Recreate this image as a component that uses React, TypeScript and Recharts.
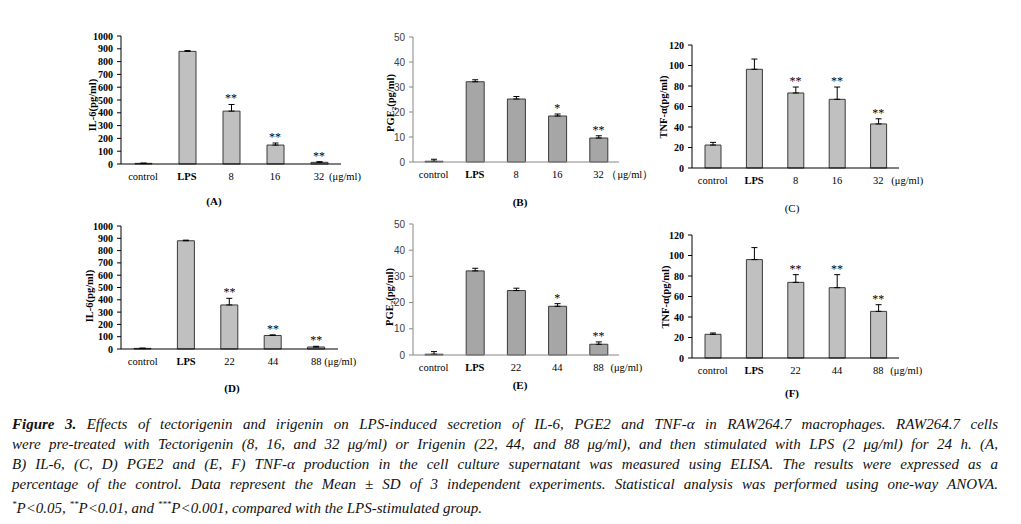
import React from "react";
import { ComposedChart, Bar, XAxis, YAxis, ErrorBar, Scatter } from "recharts";

const groupsTecto = ["control", "LPS", "8", "16", "32"];
const groupsIri = ["control", "LPS", "22", "44", "88"];

// tectorigenin (A, B, C)
const il6Tecto = [5, 880, 413, 148, 13];
const il6TectoSd = [2, 6, 52, 16, 5];
const pge2Tecto = [0.3, 32.1, 25.2, 18.4, 9.6];
const pge2TectoSd = [0.8, 0.8, 1.0, 0.8, 0.9];
const tnfTecto = [22.4, 96.3, 73.2, 67, 43];
const tnfTectoSd = [2.6, 10, 5.8, 12, 5];

// irigenin (D, E, F)
const il6Iri = [5, 880, 358, 110, 16];
const il6IriSd = [2, 5, 54, 5, 6];
const pge2Iri = [0.3, 32.1, 24.6, 18.6, 4.1];
const pge2IriSd = [1.0, 1.0, 0.9, 1.0, 0.9];
const tnfIri = [23.1, 96, 73.8, 68.6, 45.5];
const tnfIriSd = [1.3, 11.7, 7.5, 12.7, 6.5];

const sigIl6 = ["", "", "**", "**", "**"];
const sigPge2 = ["", "", "", "*", "**"];
const sigTnf = ["", "", "**", "**", "**"];

const il6Ticks = [0, 100, 200, 300, 400, 500, 600, 700, 800, 900, 1000];
const pge2Ticks = [0, 10, 20, 30, 40, 50];
const tnfTicks = [0, 20, 40, 60, 80, 100, 120];

const serif = "'Liberation Serif', 'Times New Roman', serif";
const sans = "'Liberation Sans', Arial, sans-serif";

const CatTick = (props: any) => {
  const { x, y, payload, index, unit, unitDx, lastIndex } = props;
  const bold = payload.value === "LPS";
  return (
    <g>
      <text x={x} y={y} dy="0.71em" textAnchor="middle" fontFamily={serif} fontSize={10.5} fontWeight={bold ? 700 : 400} fill="#000">
        {payload.value}
      </text>
      {index === lastIndex && (
        <text x={x + unitDx} y={y} dy="0.71em" textAnchor="start" fontFamily={serif} fontSize={10.5} fill="#000">
          {unit}
        </text>
      )}
    </g>
  );
};

const Star = (props: any) => {
  const { cx, cy, payload } = props;
  if (!payload || !payload.sig) return <g />;
  return (
    <text x={cx} y={cy - 2} textAnchor="middle" fontFamily={serif} fontSize={12} style={{ fill: "#000" }} stroke="none">
      {payload.sig}
    </text>
  );
};

type PanelProps = {
  names: string[];
  values: number[];
  sd: number[];
  sig: string[];
  ticks: number[];
  px: number;
  py: number;
  pw: number;
  ph: number;
  clipRight: number;
  barSize: number;
  fill: string;
  excel?: boolean;
  yLabel: React.ReactNode;
  yLabelX: number;
  yLabelY: number;
  letter: string;
  letterX: number;
  letterY: number;
  letterBold?: boolean;
  unit: string;
  unitDx: number;
};

function Panel(p: PanelProps) {
  const yAxisW = 61;
  const mTop = 14;
  const left = p.px - yAxisW;
  const top = p.py - mTop;
  const width = p.clipRight - left;
  const height = mTop + p.ph + 1 + 30;
  const data = p.names.map((name, i) => ({
    name,
    v: p.values[i],
    sd: [0, p.sd[i]],
    top: p.values[i] + p.sd[i],
    sig: p.sig[i],
  }));
  const axisColor = p.excel ? "#868686" : "#000";
  return (
    <>
      <div style={{ position: "absolute", left, top }}>
        <ComposedChart
          width={width}
          height={height}
          data={data}
          margin={{ top: mTop, right: width - yAxisW - p.pw, bottom: 0, left: 0 }}
        >
          <XAxis
            xAxisId={0}
            type="number"
            domain={[0, 5]}
            ticks={[0, 1, 2, 3, 4, 5]}
            allowDataOverflow
            tick={false}
            tickSize={3}
            height={1}
            axisLine={{ stroke: axisColor }}
            tickLine={{ stroke: axisColor }}
          />
          <XAxis
            xAxisId={1}
            dataKey="name"
            type="category"
            interval={0}
            axisLine={false}
            tickLine={false}
            height={30}
            tick={<CatTick unit={p.unit} unitDx={p.unitDx} lastIndex={p.names.length - 1} />}
          />
          <YAxis
            width={yAxisW}
            domain={[0, p.ticks[p.ticks.length - 1]]}
            ticks={p.ticks}
            interval={0}
            tickSize={4}
            tickMargin={4}
            axisLine={{ stroke: axisColor }}
            tickLine={{ stroke: axisColor }}
            tick={{
              fontFamily: p.excel ? sans : serif,
              fontSize: 10,
              fontWeight: p.excel ? 400 : 700,
              fill: p.excel ? "#404040" : "#000",
            }}
          />
          <Bar xAxisId={1} dataKey="v" fill={p.fill} stroke="#3a3a3a" strokeWidth={1} barSize={p.barSize} isAnimationActive={false}>
            <ErrorBar dataKey="sd" width={3} stroke="#000" strokeWidth={1} direction="y" />
          </Bar>
          <Scatter xAxisId={1} dataKey="top" fill="#000" shape={<Star />} isAnimationActive={false} />
        </ComposedChart>
      </div>
      <div
        style={{
          position: "absolute",
          left: p.yLabelX,
          top: p.yLabelY,
          transform: "translate(-50%, -50%) rotate(-90deg)",
          whiteSpace: "nowrap",
          fontFamily: serif,
          fontWeight: 700,
          fontSize: 10.5,
          color: "#000",
        }}
      >
        {p.yLabel}
      </div>
      <div
        style={{
          position: "absolute",
          left: p.letterX,
          top: p.letterY,
          transform: "translate(-50%, -50%)",
          fontFamily: serif,
          fontWeight: p.letterBold === false ? 400 : 700,
          fontSize: 11,
          color: "#000",
        }}
      >
        {p.letter}
      </div>
    </>
  );
}

const pgeLabel = (
  <span>
    PGE<sub style={{ fontSize: 7, verticalAlign: "-2px" }}>2</sub>(pg/ml)
  </span>
);

const captionLines = [
  " Effects of tectorigenin and irigenin on LPS-induced secretion of IL-6, PGE2 and TNF-α in RAW264.7 macrophages. RAW264.7 cells",
  "were pre-treated with Tectorigenin (8, 16, and 32 μg/ml) or Irigenin (22, 44, and 88 μg/ml), and then stimulated with LPS (2 μg/ml) for 24 h. (A,",
  "B) IL-6, (C, D) PGE2 and (E, F) TNF-α production in the cell culture supernatant was measured using ELISA. The results were expressed as a",
  "percentage of the control. Data represent the Mean ± SD of 3 independent experiments. Statistical analysis was performed using one-way ANOVA.",
];

export default function App() {
  const lineStyle: React.CSSProperties = {
    textAlign: "justify",
    textAlignLast: "justify",
    whiteSpace: "nowrap",
    height: 20,
    lineHeight: "20px",
  };
  return (
    <div style={{ position: "absolute", left: 0, top: 0, width: 1021, height: 524, background: "#fff", overflow: "hidden" }}>
      <Panel
        names={groupsTecto} values={il6Tecto} sd={il6TectoSd} sig={sigIl6} ticks={il6Ticks}
        px={121} py={36} pw={220} ph={128} clipRight={362} barSize={17} fill="#c0c0c0"
        yLabel="IL-6(pg/ml)" yLabelX={92} yLabelY={105}
        letter="(A)" letterX={214} letterY={201} unit="(μg/ml)" unitDx={10}
      />
      <Panel
        names={groupsTecto} values={pge2Tecto} sd={pge2TectoSd} sig={sigPge2} ticks={pge2Ticks}
        px={413} py={37} pw={206} ph={125} clipRight={660} barSize={18} fill="#a6a6a6" excel
        yLabel={pgeLabel} yLabelX={391} yLabelY={103}
        letter="(B)" letterX={520} letterY={202} unit="（μg/ml）" unitDx={8}
      />
      <Panel
        names={groupsTecto} values={tnfTecto} sd={tnfTectoSd} sig={sigTnf} ticks={tnfTicks}
        px={692} py={45} pw={207} ph={123} clipRight={940} barSize={16} fill="#c0c0c0"
        yLabel="TNF-α(pg/ml)" yLabelX={663} yLabelY={107}
        letter="(C)" letterX={792} letterY={208} letterBold={false} unit="(μg/ml)" unitDx={13}
      />
      <Panel
        names={groupsIri} values={il6Iri} sd={il6IriSd} sig={sigIl6} ticks={il6Ticks}
        px={121} py={226} pw={217} ph={123} clipRight={362} barSize={17} fill="#c0c0c0"
        yLabel="IL-6(pg/ml)" yLabelX={89} yLabelY={296}
        letter="(D)" letterX={232} letterY={388} unit="(μg/ml)" unitDx={8}
      />
      <Panel
        names={groupsIri} values={pge2Iri} sd={pge2IriSd} sig={sigPge2} ticks={pge2Ticks}
        px={413} py={224} pw={206} ph={131} clipRight={660} barSize={18} fill="#a6a6a6" excel
        yLabel={pgeLabel} yLabelX={390} yLabelY={297}
        letter="(E)" letterX={520} letterY={385} unit="(μg/ml)" unitDx={12}
      />
      <Panel
        names={groupsIri} values={tnfIri} sd={tnfIriSd} sig={sigTnf} ticks={tnfTicks}
        px={692} py={235} pw={207} ph={123} clipRight={940} barSize={16} fill="#c0c0c0"
        yLabel="TNF-α(pg/ml)" yLabelX={665} yLabelY={297}
        letter="(F)" letterX={792} letterY={393} unit="(μg/ml)" unitDx={12}
      />
      <div
        style={{
          position: "absolute",
          left: 12,
          top: 414,
          width: 986,
          fontFamily: serif,
          fontStyle: "italic",
          fontSize: 15,
          color: "#111",
        }}
      >
        {captionLines.map((line, i) => (
          <div key={i} style={lineStyle}>
            {i === 0 && <b>Figure 3.</b>}
            {line}
          </div>
        ))}
        <div style={{ height: 20, lineHeight: "20px", whiteSpace: "nowrap" }}>
          <sup style={{ fontSize: 9 }}>*</sup>P&lt;0.05, <sup style={{ fontSize: 9 }}>**</sup>P&lt;0.01, and{" "}
          <sup style={{ fontSize: 9 }}>***</sup>P&lt;0.001, compared with the LPS-stimulated group.
        </div>
      </div>
    </div>
  );
}
